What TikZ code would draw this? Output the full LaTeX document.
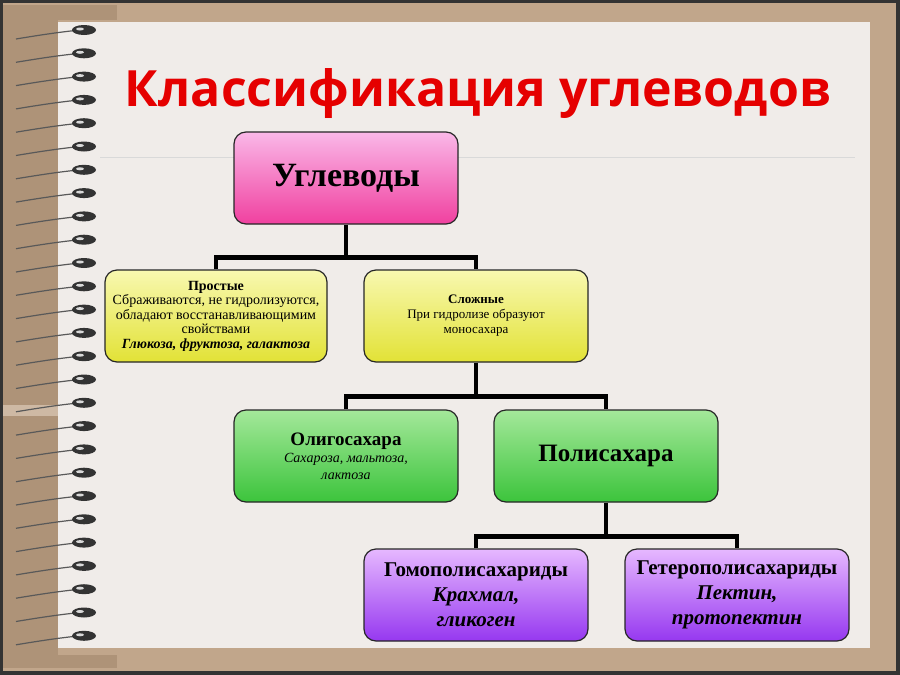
\documentclass[tikz,border=0pt]{standalone}
\usepackage{fontspec}
\setmainfont{Liberation Serif}
\newfontfamily\titlefont{Open Sans}
\definecolor{pinktop}{HTML}{FAB8E8}
\definecolor{pinkbot}{HTML}{F0409F}
\definecolor{purtop}{HTML}{E6B8FF}
\definecolor{purbot}{HTML}{9638F0}
\definecolor{grtop}{HTML}{A4E89A}
\definecolor{grbot}{HTML}{3CC43C}
\definecolor{yetop}{HTML}{F8F8B0}
\definecolor{yebot}{HTML}{E2E236}
\begin{document}
\begin{tikzpicture}[x=1pt,y=-1pt,
  bx/.style={draw=black!85,line width=1.2pt,rounded corners=12pt,minimum width=224pt,minimum height=92pt,align=center,inner sep=1pt},
  pinkb/.style={bx,top color=pinktop,bottom color=pinkbot},
  yelb/.style={bx,minimum width=222pt,top color=yetop,bottom color=yebot},
  greenb/.style={bx,top color=grtop,bottom color=grbot},
  purpb/.style={bx,top color=purtop,bottom color=purbot},
  conn/.style={line width=4.5pt,black}]
\useasboundingbox (0,0) rectangle (900,675);
\fill[black!80] (0,0) rectangle (900,675);
\fill[brown!60!gray!70!white] (3,3) rectangle (896,671);
\fill[brown!50!gray!85!white] (3,20) rectangle (58,655);
\fill[brown!50!gray!85!white] (3,5) rectangle (117,20);
\fill[brown!50!gray!85!white] (3,655) rectangle (117,668);
\fill[brown!60!gray!55!white] (3,405) rectangle (58,416);
\fill[black!5!white!95!brown] (58,22) rectangle (870,648);
\draw[black!15] (100,157) -- (855,157);
\foreach \i in {0,...,26}{
  \pgfmathsetmacro\yy{32+23.3*\i}
  \draw[gray!70!black,line width=1.2pt] (16,\yy+7) .. controls (40,\yy+3) and (60,\yy) .. (80,\yy-2);
  \fill[black!60!gray] (84,\yy-2) ellipse (12pt and 5pt);
  \fill[white!70!gray] (80,\yy-3) ellipse (4pt and 1.5pt);
}
\node[text=red!90!black,font=\titlefont\bfseries\fontsize{50}{60}\selectfont] (title) at (478,94) {Классификация углеводов};
\node[pinkb,font=\fontsize{34}{40}\selectfont\bfseries] (u) at (346,178) {Углеводы};
\node[yelb,font=\fontsize{14}{14.5}\selectfont] (p) at (216,316) {\textbf{Простые}\\Сбраживаются, не гидролизуются,\\обладают восстанавливающимим\\свойствами\\\textbf{\itshape Глюкоза, фруктоза, галактоза}};
\node[yelb,minimum width=224pt,font=\fontsize{13}{15}\selectfont] (s) at (476,316) {\textbf{Сложные}\\При гидролизе образуют\\моносахара};
\node[greenb,font=\fontsize{14}{17}\selectfont] (o) at (346,456) {\fontsize{19}{21}\selectfont\textbf{Олигосахара}\\\itshape Сахароза, мальтоза,\\\itshape лактоза};
\node[greenb,font=\fontsize{25}{28}\selectfont\bfseries] (ps) at (606,456) {Полисахара};
\node[purpb,font=\fontsize{21}{25}\selectfont\bfseries] (g) at (476,595) {Гомополисахариды\\\itshape Крахмал,\\\itshape гликоген};
\node[purpb,font=\fontsize{21}{25}\selectfont\bfseries] (h) at (737,595) {Гетерополисахариды\\\itshape Пектин,\\\itshape протопектин};
\draw[conn] (u.south) -- ++(0,33) coordinate (j1);
\draw[conn] (p.north) |- (j1) -| (s.north);
\draw[conn] (s.south) -- ++(0,34) coordinate (j2);
\draw[conn] (o.north) |- (j2) -| (ps.north);
\draw[conn] (ps.south) -- ++(0,34) coordinate (j3);
\draw[conn] (g.north) |- (j3) -| (h.north);
\end{tikzpicture}
\end{document}
